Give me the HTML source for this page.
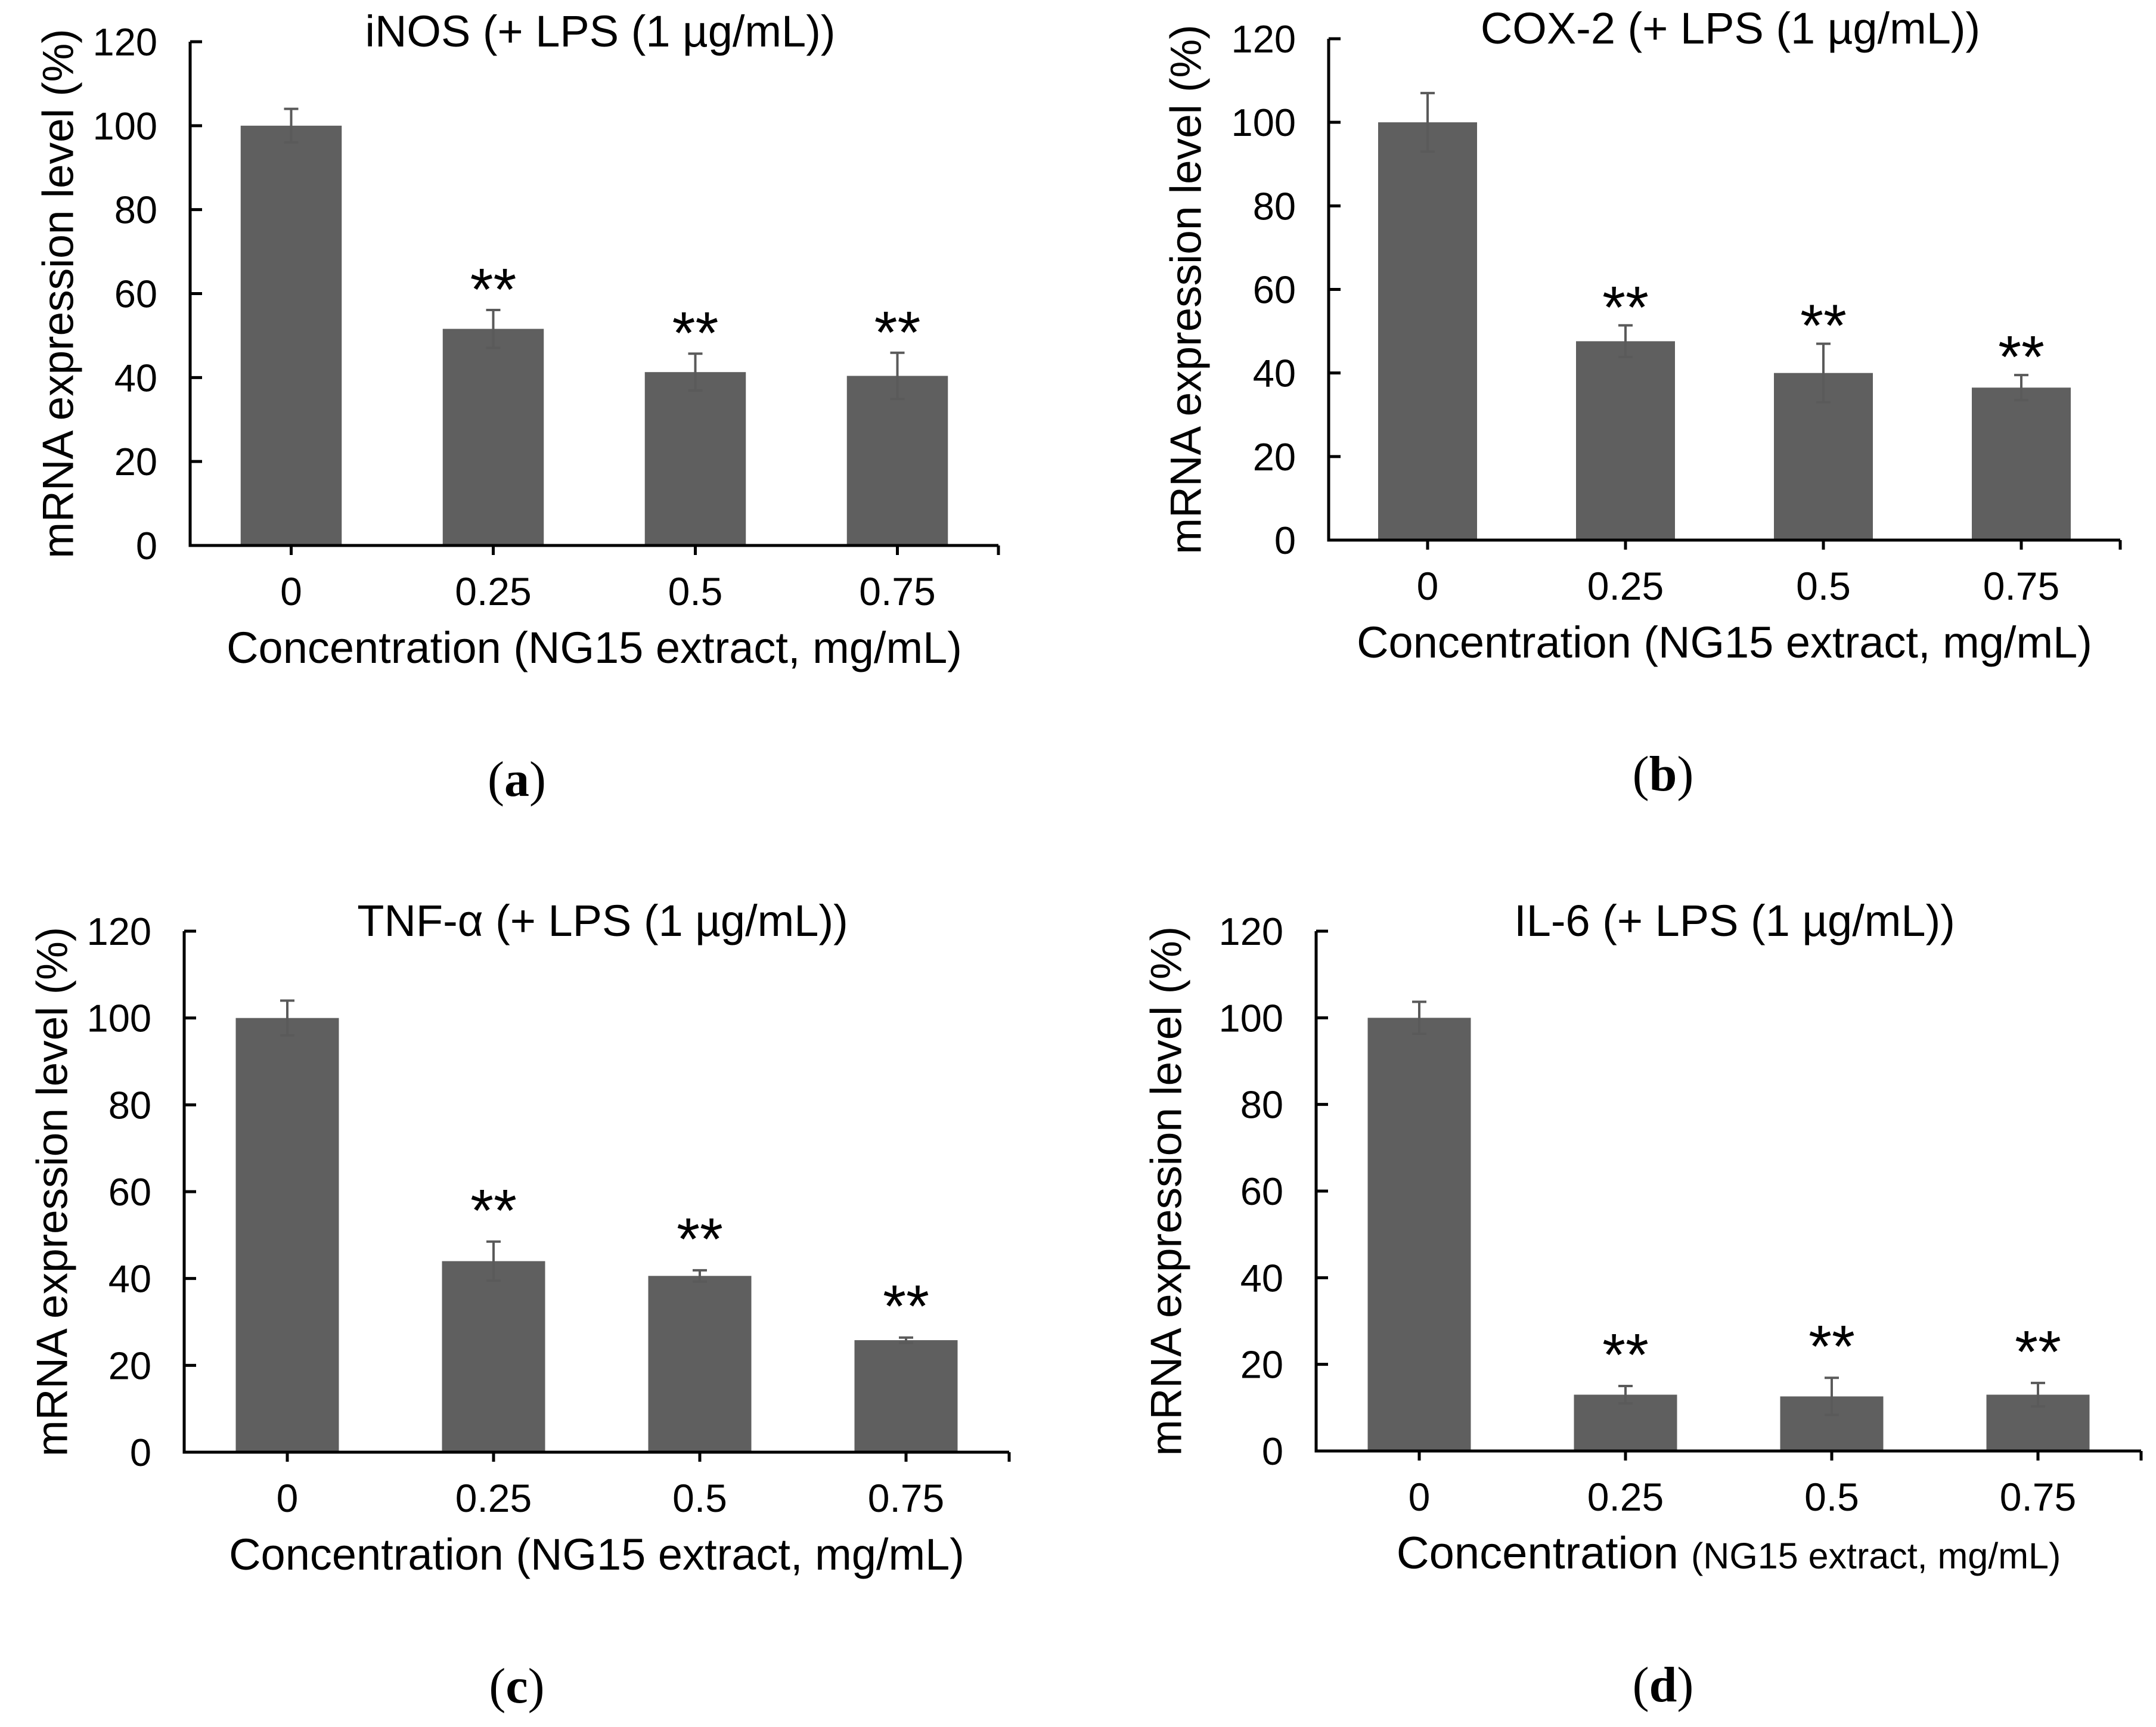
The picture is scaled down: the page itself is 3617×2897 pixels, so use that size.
<!DOCTYPE html>
<html><head><meta charset="utf-8"><style>
html,body{margin:0;padding:0;background:#fff;}
svg{display:block;font-family:"Liberation Sans",Arial,sans-serif;}
</style></head><body>
<svg id="fig" width="3617" height="2897" viewBox="0 0 3617 2897" xmlns="http://www.w3.org/2000/svg"></svg>
<script>
const categories = ["0","0.25","0.5","0.75"];
const yTicks = [0,20,40,60,80,100,120];
const inosValues = [100,51.6,41.3,40.4];
const inosErrors = [4,4.5,4.4,5.5];
const coxValues = [100,47.6,40,36.5];
const coxErrors = [7,3.8,7,3];
const tnfValues = [100,44,40.6,25.8];
const tnfErrors = [4,4.5,1.3,0.6];
const il6Values = [100,13,12.6,13];
const il6Errors = [3.7,2,4.3,2.7];
const stars = ["","**","**","**"];

const panels = [
 {id:"a",title:"iNOS (+ LPS (1 µg/mL))",vals:inosValues,errs:inosErrors,x0:319,x1:1675,yTop:70,yBot:915,ytx:98,starOff:0,small:false},
 {id:"b",title:"COX-2 (+ LPS (1 µg/mL))",vals:coxValues,errs:coxErrors,x0:2229,x1:3557,yTop:65,yBot:906,ytx:1990,starOff:-4,small:false},
 {id:"c",title:"TNF-α (+ LPS (1 µg/mL))",vals:tnfValues,errs:tnfErrors,x0:309,x1:1693,yTop:1562,yBot:2436,ytx:88,starOff:18,small:false},
 {id:"d",title:"IL-6 (+ LPS (1 µg/mL))",vals:il6Values,errs:il6Errors,x0:2208,x1:3592,yTop:1562,yBot:2434,ytx:1957,starOff:18,small:true}
];
const NS="http://www.w3.org/2000/svg";
const svg=document.getElementById('fig');
function mk(tag,attrs,parent,text){
  const e=document.createElementNS(NS,tag);
  for(const k in attrs) e.setAttribute(k,attrs[k]);
  if(text!==undefined) e.textContent=text;
  parent.appendChild(e); return e;
}
panels.forEach(p=>{
  const g=mk('g',{},svg);
  
  
  const yScale=v=>p.yBot-(v/120)*(p.yBot-p.yTop);
  const step=(p.x1-p.x0)/categories.length;
  const xScale=i=>p.x0+step*(i+0.5);
  const bw=step/2;
  p.vals.forEach((v,i)=>{
    const r=mk('rect',{x:xScale(i)-bw/2,y:yScale(v),width:bw,height:p.yBot-yScale(v),fill:'#5f5f5f'},g);
    
    
    const e=p.errs[i], cx=xScale(i);
    const eb=mk('path',{d:`M${cx},${yScale(v+e)}V${yScale(v-e)}M${cx-12},${yScale(v+e)}H${cx+12}M${cx-12},${yScale(v-e)}H${cx+12}`,stroke:'#5a5a5a','stroke-width':4,fill:'none'},g);
    
    
    if(stars[i]){
      const s=mk('text',{x:cx,y:yScale(v+e)-p.starOff,'font-size':100,'text-anchor':'middle',fill:'#000'},g,stars[i]);
      
      
    }
  });
  const ax=mk('path',{d:`M${p.x0},${p.yTop}V${p.yBot}H${p.x1}`,stroke:'#000','stroke-width':5,fill:'none'},g);
  
  
  yTicks.forEach(t=>{
    const y=yScale(t);
    const tk=mk('line',{x1:p.x0,x2:p.x0+20,y1:y,y2:y,stroke:'#000','stroke-width':5},g);
    
    
    const l=mk('text',{x:p.x0-55,y:y+23,'font-size':65,'text-anchor':'end',fill:'#000'},g,String(t));
    
    
  });
  categories.forEach((c,i)=>{
    const x=xScale(i);
    const tk=mk('line',{x1:x,x2:x,y1:p.yBot,y2:p.yBot+16,stroke:'#000','stroke-width':5},g);
    
    
    const l=mk('text',{x:x,y:p.yBot+100,'font-size':66,'text-anchor':'middle',fill:'#000'},g,c);
    
    
  });
  const et=mk('line',{x1:p.x1,x2:p.x1,y1:p.yBot,y2:p.yBot+16,stroke:'#000','stroke-width':5},g);
  
  
  const cxm=(p.x0+p.x1)/2;
  const t=mk('text',{x:cxm+10,y:p.yTop+8,'font-size':74,'text-anchor':'middle',fill:'#000'},g,p.title);
  
  
  let xt;
  if(p.small){
    xt=mk('text',{x:cxm,y:p.yBot+197,'font-size':76,'text-anchor':'middle',fill:'#000'},g);
    mk('tspan',{},xt,'Concentration ');
    mk('tspan',{'font-size':61},xt,'(NG15 extract, mg/mL)');
  } else {
    xt=mk('text',{x:cxm,y:p.yBot+197,'font-size':74,'text-anchor':'middle',fill:'#000'},g,'Concentration (NG15 extract, mg/mL)');
  }
  
  
  const ymid=(p.yTop+p.yBot)/2;
  const yt=mk('text',{x:p.ytx,y:ymid,'font-size':73,'text-anchor':'middle',fill:'#000','dominant-baseline':'central',transform:`rotate(-90 ${p.ytx} ${ymid})`},g,'mRNA expression level (%)');
  
  
  const lab=mk('text',{x:p.id==='a'||p.id==='c'?867:2790,y:p.yBot+420,'font-size':84,'text-anchor':'middle',fill:'#000','font-family':'"Liberation Serif",serif'},g);
  mk('tspan',{},lab,'(');
  mk('tspan',{'font-weight':'bold'},lab,p.id);
  mk('tspan',{},lab,')');
  
  
});
</script>
</body></html>
